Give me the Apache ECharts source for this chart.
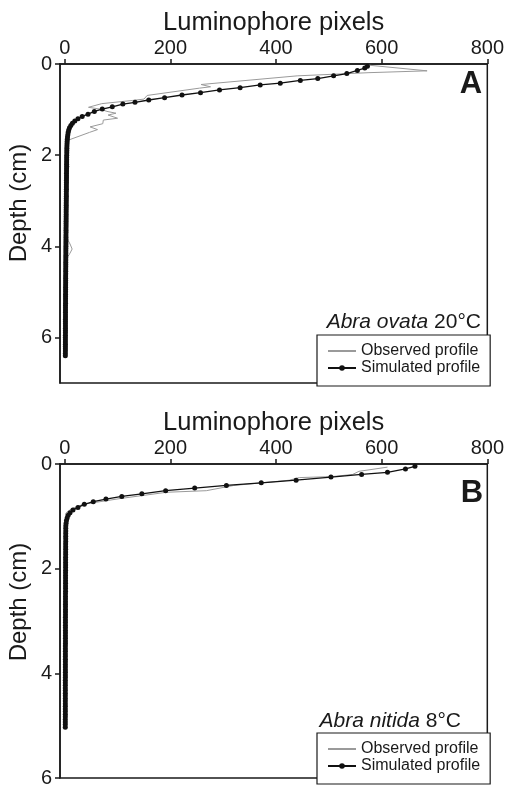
<!DOCTYPE html>
<html>
<head>
<meta charset="utf-8">
<script src="https://cdn.jsdelivr.net/npm/echarts@6/dist/echarts.min.js"></script>
<style>
html,body{margin:0;padding:0;background:#fff;}
#chart{width:507px;height:788px;}
</style>
</head>
<body>
<div id="chart"></div>
<script>
// ---------- Data ----------
var xTicks = [0, 200, 400, 600, 800];
var yTicksA = [0, 2, 4, 6];
var yTicksB = [0, 2, 4, 6];

// Panel A - observed profile (depth cm, luminophore pixels)
var obsDepthA = [0.02,0.15,0.19,0.26,0.45,0.50,0.53,0.69,0.77,0.80,0.87,0.95,0.99,1.04,1.08,1.12,1.19,1.23,1.31,1.38,1.44,1.50,1.53,1.67,1.75,1.85,1.95,2.05,2.15,2.25,2.35,2.45,2.55,2.70,3.00,3.50,3.80,3.95,4.06,4.15,4.28,4.50,5.00,5.50,6.00,6.30];
var obsValueA = [570,686,576,440,258,276,255,156,150,128,70,45,67,80,97,82,100,73,72,48,62,47,50,7,5,7,4,7,4,8,5,7,4,3,2,2,3,10,14,10,3,2,2,2,1,1];

// Panel A - simulated profile
var simDepthA = [0.05,0.09,0.14,0.21,0.26,0.32,0.36,0.42,0.46,0.52,0.57,0.63,0.68,0.74,0.79,0.84,0.88,0.94,0.99,1.04,1.10,1.15,1.20,
  1.25,1.30,1.35,1.40,1.45,1.50,1.55,1.60,1.65,1.70,1.75,1.80,1.85,1.90,1.95,2.00,
  2.05,2.10,2.15,2.20,2.25,2.30,2.35,2.40,2.45,2.50,2.55,2.60,2.65,2.70,2.75,2.80,2.85,2.90,2.95,3.00,
  3.05,3.10,3.15,3.20,3.25,3.30,3.35,3.40,3.45,3.50,3.55,3.60,3.65,3.70,3.75,3.80,3.85,3.90,3.95,4.00,
  4.05,4.10,4.15,4.20,4.25,4.30,4.35,4.40,4.45,4.50,4.55,4.60,4.65,4.70,4.75,4.80,4.85,4.90,4.95,5.00,
  5.05,5.10,5.15,5.20,5.25,5.30,5.35,5.40,5.45,5.50,5.55,5.60,5.65,5.70,5.75,5.80,5.85,5.90,5.95,6.00,
  6.05,6.10,6.15,6.20,6.25,6.30,6.35,6.40];
var simValueA = [573,568,554,534,509,479,446,408,370,332,293,257,222,189,159,133,110,90,71,56,44,33,25,
  19,14.5,11.5,9,7.5,6.5,5.8,5.2,4.8,4.5,4.3,4.1,4,3.9,3.8,3.7,
  3.6,3.6,3.5,3.5,3.5,3.4,3.4,3.3,3.3,3.3,3.2,3.2,3.1,3.1,3.1,3.0,3.0,3.0,2.9,2.9,
  2.8,2.8,2.8,2.7,2.7,2.7,2.6,2.6,2.5,2.5,2.5,2.4,2.4,2.4,2.3,2.3,2.3,2.2,2.2,2.2,
  2.1,2.1,2.1,2.0,2.0,2.0,1.9,1.9,1.9,1.8,1.8,1.8,1.7,1.7,1.7,1.7,1.6,1.6,1.6,1.6,
  1.5,1.5,1.5,1.5,1.5,1.4,1.4,1.4,1.4,1.4,1.4,1.3,1.3,1.3,1.3,1.3,1.3,1.3,1.2,1.2,
  1.2,1.2,1.2,1.2,1.2,1.2,1.1,1.1];

// Panel B - observed profile
var obsDepthB = [0.06,0.14,0.20,0.24,0.26,0.31,0.41,0.51,0.54,0.66,0.77,0.86,0.94,1.20,1.50,2.00,2.50,3.00,3.50,4.00,4.50,5.00];
var obsValueB = [611,557,545,507,444,425,320,268,193,105,35,12,2,2,2,1.5,2,1.5,1.5,1.5,1,1];

// Panel B - simulated profile
var simDepthB = [0.045,0.095,0.16,0.20,0.25,0.31,0.36,0.41,0.46,0.51,0.57,0.62,0.67,0.72,0.77,0.83,0.88,0.93,0.98,1.03,1.08,1.13,1.18,
  1.23,1.28,1.33,1.38,1.43,1.48,1.53,1.58,1.63,1.68,1.73,1.78,1.83,1.88,1.93,1.98,
  2.03,2.08,2.13,2.18,2.23,2.28,2.33,2.38,2.43,2.48,2.53,2.58,2.63,2.68,2.73,2.78,2.83,2.88,2.93,2.98,
  3.03,3.08,3.13,3.18,3.23,3.28,3.33,3.38,3.43,3.48,3.53,3.58,3.63,3.68,3.73,3.78,3.83,3.88,3.93,3.98,
  4.03,4.08,4.13,4.18,4.23,4.28,4.33,4.38,4.43,4.48,4.53,4.58,4.63,4.68,4.73,4.78,4.83,4.88,4.93,4.98,5.03];
var simValueB = [663,645,611,562,504,438,372,306,246,191,146,108,78,54,37,25,15.5,10,6.5,4.5,3.2,2.5,2,
  1.9,1.9,1.8,1.8,1.8,1.8,1.7,1.7,1.7,1.7,1.7,1.6,1.6,1.6,1.6,1.6,
  1.6,1.5,1.5,1.5,1.5,1.5,1.5,1.5,1.5,1.4,1.4,1.4,1.4,1.4,1.4,1.4,1.4,1.4,1.3,1.3,
  1.3,1.3,1.3,1.3,1.3,1.3,1.3,1.3,1.3,1.2,1.2,1.2,1.2,1.2,1.2,1.2,1.2,1.2,1.2,1.2,
  1.2,1.2,1.1,1.1,1.1,1.1,1.1,1.1,1.1,1.1,1.1,1.1,1.1,1.1,1.1,1.1,1.1,1.0,1.0,1.0,1.0];

function pairs(vals, depths){ var out=[]; for(var i=0;i<vals.length;i++){ out.push([vals[i], depths[i]]); } return out; }

// ---------- Chart ----------
var FONT = 'Liberation Sans, Arial, Helvetica, sans-serif';
var INK = '#1a1a1a';
var chart = echarts.init(document.getElementById('chart'), null, {renderer:'canvas'});

function xAxisCfg(gi){
  return {
    gridIndex: gi, type:'value', position:'top', min:-9, max:800,
    name:'Luminophore pixels', nameLocation:'middle', nameGap:28,
    nameTextStyle:{fontFamily:FONT, fontSize:25.5, color:INK},
    axisLine:{show:true, onZero:false, lineStyle:{color:INK, width:1.5}},
    axisTick:{show:true, inside:false, length:5, lineStyle:{color:INK, width:1.5}, customValues:xTicks},
    axisLabel:{show:true, margin:6, fontFamily:FONT, fontSize:20, color:INK, customValues:xTicks},
    splitLine:{show:false}
  };
}
function yAxisCfg(gi, maxV, ticks){
  return {
    gridIndex: gi, type:'value', inverse:true, min:0, max:maxV,
    axisLine:{show:true, onZero:false, lineStyle:{color:INK, width:1.5}},
    axisTick:{show:true, inside:false, length:5, lineStyle:{color:INK, width:1.5}, customValues:ticks},
    axisLabel:{show:true, margin:8, fontFamily:FONT, fontSize:20, color:INK, customValues:ticks},
    splitLine:{show:false}
  };
}
function legendCfg(top){
  return {
    orient:'vertical', left:317, top:top,
    data:[
      {name:'Observed profile', itemStyle:{opacity:0}},
      {name:'Simulated profile'}
    ],
    backgroundColor:'#fff',
    borderColor:INK, borderWidth:1.2, borderRadius:0,
    padding:[8,10,10,10],
    itemWidth:28, itemHeight:7, itemGap:1,
    textStyle:{fontFamily:FONT, fontSize:16, color:INK, lineHeight:14},
    selectedMode:false
  };
}
function obsSeries(name, gi, data){
  return {name:name, type:'line', xAxisIndex:gi, yAxisIndex:gi, data:data,
    symbol:'none', showSymbol:false, color:'#9a9a9a',
    lineStyle:{color:'#9a9a9a', width:1}, z:2, silent:true};
}
function simSeries(name, gi, data){
  return {name:name, type:'line', xAxisIndex:gi, yAxisIndex:gi, data:data,
    symbol:'circle', symbolSize:5, showSymbol:true, showAllSymbol:true, color:'#111',
    itemStyle:{color:'#111'}, lineStyle:{color:'#111', width:1.3}, z:3, silent:true};
}

var option = {
  animation:false,
  backgroundColor:'#fff',
  textStyle:{fontFamily:FONT},
  grid:[
    {left:60, top:64, width:429, height:319, show:true, borderColor:INK, borderWidth:1.5, backgroundColor:'transparent', containLabel:false},
    {left:60, top:464, width:429, height:318, show:true, borderColor:INK, borderWidth:1.5, backgroundColor:'transparent', containLabel:false}
  ],
  xAxis:[xAxisCfg(0), xAxisCfg(1)],
  yAxis:[yAxisCfg(0, 7, yTicksA), yAxisCfg(1, 6, yTicksB)],
  legend:[legendCfg(335), legendCfg(733)],
  series:[
    obsSeries('Observed profile', 0, pairs(obsValueA, obsDepthA)),
    simSeries('Simulated profile', 0, pairs(simValueA, simDepthA)),
    obsSeries('Observed profile', 1, pairs(obsValueB, obsDepthB)),
    simSeries('Simulated profile', 1, pairs(simValueB, simDepthB))
  ],
  graphic:[
    {type:'text', x:19, y:203, rotation:Math.PI/2, style:{text:'Depth (cm)', fontFamily:FONT, fontSize:24, fill:INK, align:'center', verticalAlign:'middle'}},
    {type:'text', x:19, y:602, rotation:Math.PI/2, style:{text:'Depth (cm)', fontFamily:FONT, fontSize:24, fill:INK, align:'center', verticalAlign:'middle'}},
    {type:'text', x:471, y:84, style:{text:'A', fontFamily:FONT, fontSize:31, fontWeight:'bold', fill:INK, align:'center', verticalAlign:'middle'}},
    {type:'text', x:472, y:493, style:{text:'B', fontFamily:FONT, fontSize:31, fontWeight:'bold', fill:INK, align:'center', verticalAlign:'middle'}},
    {type:'text', x:481, y:322, style:{text:'{i|Abra ovata} 20°C', fontFamily:FONT, fontSize:21, fill:INK, align:'right', verticalAlign:'middle',
      rich:{i:{fontFamily:FONT, fontSize:21, fontStyle:'italic', fill:INK}}}},
    {type:'text', x:461, y:721, style:{text:'{i|Abra nitida} 8°C', fontFamily:FONT, fontSize:21, fill:INK, align:'right', verticalAlign:'middle',
      rich:{i:{fontFamily:FONT, fontSize:21, fontStyle:'italic', fill:INK}}}}
  ]
};
chart.setOption(option);
</script>
</body>
</html>
